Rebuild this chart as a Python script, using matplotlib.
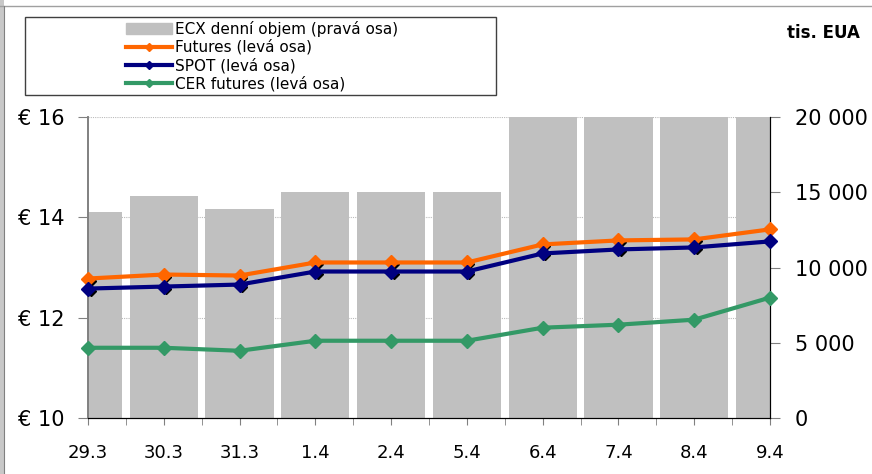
import matplotlib
matplotlib.use("Agg")
import matplotlib.pyplot as plt
from matplotlib.patches import Rectangle
from matplotlib.lines import Line2D
from matplotlib.transforms import offset_copy

# Data
dates = ["29.3", "30.3", "31.3", "1.4", "2.4", "5.4", "6.4", "7.4", "8.4", "9.4"]
ecx_volume = [13700, 14750, 13900, 15000, 15000, 15000, 24000, 25000, 23000, 24500]
futures = [12.78, 12.86, 12.84, 13.10, 13.10, 13.10, 13.46, 13.54, 13.56, 13.76]
spot = [12.58, 12.62, 12.66, 12.92, 12.92, 12.92, 13.28, 13.36, 13.40, 13.52]
cer_futures = [11.40, 11.40, 11.34, 11.54, 11.54, 11.54, 11.80, 11.86, 11.96, 12.40]
left_ticks = [10, 12, 14, 16]
right_ticks = [0, 5000, 10000, 15000, 20000]

legend_labels = ["ECX denní objem (pravá osa)", "Futures (levá osa)",
                 "SPOT (levá osa)", "CER futures (levá osa)"]

C_BAR = "#C0C0C0"
C_FUT = "#FF6600"
C_SPOT = "#000080"
C_CER = "#339966"

fig = plt.figure(figsize=(8.72, 4.74), dpi=100)
W, H = 872, 474

# osy: sloupce (pravá osa) a čáry (levá osa)
ax_bar = fig.add_axes([88 / W, 1 - 418 / H, (770 - 88) / W, (418 - 117) / H])
ax = ax_bar.twinx()
ax.yaxis.tick_left()
ax_bar.yaxis.tick_right()
ax.set_zorder(ax_bar.get_zorder() + 1)
ax.patch.set_visible(False)

x = list(range(len(dates)))
ax_bar.bar(x, ecx_volume, width=0.9, color=C_BAR, zorder=2)
ax_bar.set_ylim(0, 20000)
ax_bar.set_xlim(0, len(dates) - 1)

# mřížka za sloupci (hodnoty levé osy)
for v in left_ticks[1:]:
    ax_bar.axhline((v - 10) / 6 * 20000, color="#BBBBBB", lw=0.8, ls=(0, (1, 1)), zorder=1)

ax.set_ylim(10, 16)

shadow = offset_copy(ax.transData, fig=fig, x=2.5, y=-2, units="dots")
for vals in (futures, spot):
    ax.plot(x, vals, ls="none", marker="D", ms=5, color="black", transform=shadow, zorder=3)

for vals, c in ((futures, C_FUT), (spot, C_SPOT), (cer_futures, C_CER)):
    ax.plot(x, vals, color=c, lw=3, marker="D", ms=7, mec=c, mfc=c, zorder=4, clip_on=False)

# osy, popisky
ax.set_yticks(left_ticks)
ax.set_yticklabels([f"€ {v}" for v in left_ticks])
ax_bar.set_yticks(right_ticks)
ax_bar.set_yticklabels([f"{v:,}".replace(",", " ") for v in right_ticks])
ax_bar.set_xticks(x)
ax_bar.set_xticklabels(dates)
ax_bar.set_xticks([i + 0.5 for i in x[:-1]], minor=True)

ax.tick_params(axis="y", labelsize=15, length=7, color="#808080", pad=10)
ax_bar.tick_params(axis="y", labelsize=15, length=7, color="#808080", pad=11)
ax_bar.tick_params(axis="x", which="both", labelsize=13, length=5, color="#808080", pad=14)

for a in (ax, ax_bar):
    a.spines["top"].set_visible(False)
    a.spines["left"].set_color("#808080")
    a.spines["left"].set_linewidth(1.2)
    a.spines["right"].set_color("black")
    a.spines["bottom"].set_color("black")

# legenda v rámečku
fig.patches.append(Rectangle((25 / W, 1 - 95 / H), (496 - 25) / W, (95 - 17) / H,
                             transform=fig.transFigure, fill=False, ec="#404040", lw=1))
handles = [Rectangle((0, 0), 1, 1, color=C_BAR),
           Line2D([], [], color=C_FUT, lw=3, marker="D", ms=4),
           Line2D([], [], color=C_SPOT, lw=3, marker="D", ms=4),
           Line2D([], [], color=C_CER, lw=3, marker="D", ms=4)]
fig.legend(handles, legend_labels, loc="center", bbox_to_anchor=(262 / W, 1 - 56 / H),
           frameon=False, fontsize=11, handlelength=3.0, handletextpad=0.2,
           labelspacing=0.18, borderpad=0)

fig.text(0.986, 1 - 33 / H, "tis. EUA", ha="right", va="center", fontsize=12, fontweight="bold")

# okraje obrázku
fig.add_artist(Line2D([0, 1], [1 - 6 / H, 1 - 6 / H], transform=fig.transFigure, color="#A0A0A0", lw=1))
fig.patches.append(Rectangle((0, 0), 4 / W, 1, transform=fig.transFigure, color="#C8C8C8", lw=0))
fig.add_artist(Line2D([4 / W, 4 / W], [0, 1 - 6 / H], transform=fig.transFigure, color="#808080", lw=0.8))

fig.savefig("out.png", dpi=100)
